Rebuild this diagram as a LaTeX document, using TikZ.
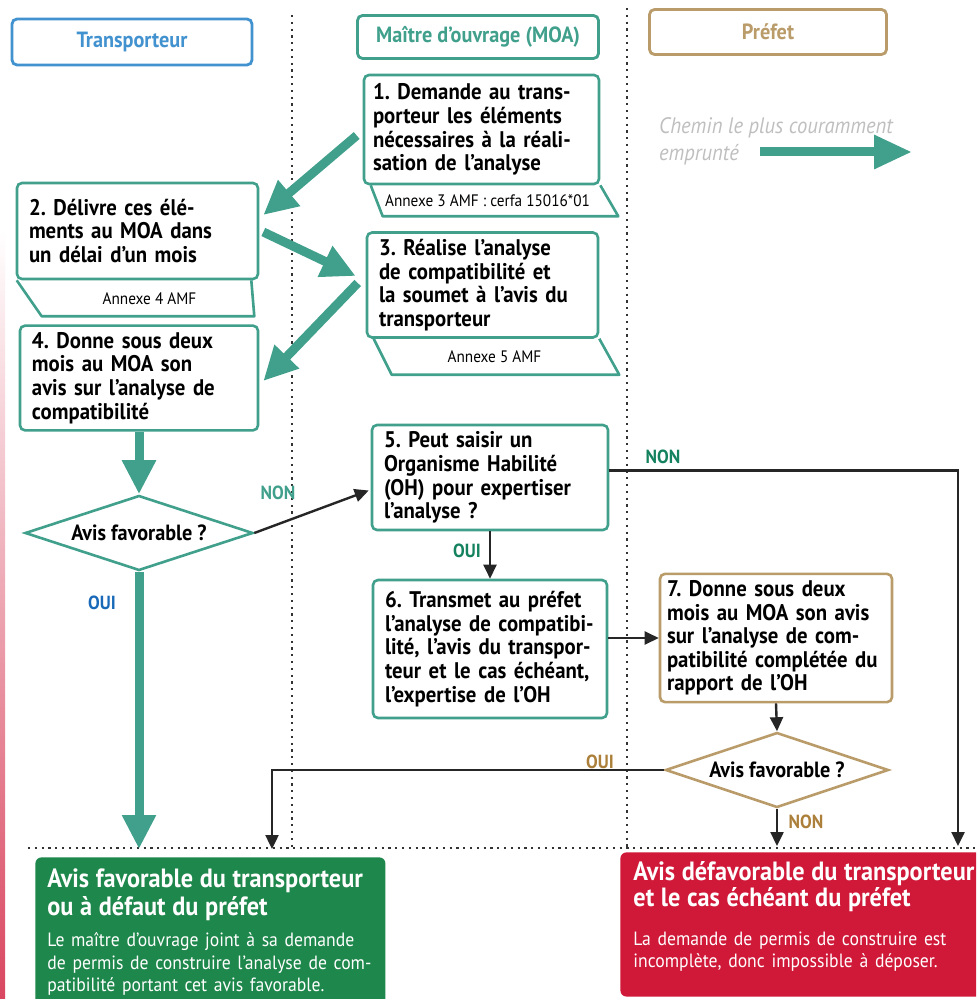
\documentclass[tikz,border=0pt]{standalone}
\usepackage{fontspec}
\setmainfont{PT Sans}[FakeStretch=0.92]
\definecolor{MoaTeal}   {RGB}{64,160,140}
\definecolor{TranspBlue}{RGB}{66,146,208}
\definecolor{OuiBlue}   {RGB}{25,105,185}
\definecolor{PrefetTan} {RGB}{186,156,106}
\definecolor{LabelTan}  {RGB}{172,128,58}
\definecolor{OkGreen}   {RGB}{30,135,75}
\definecolor{LabelGreen}{RGB}{20,130,95}
\definecolor{RefusRed}  {RGB}{208,24,56}
\usetikzlibrary{arrows.meta,positioning,calc,shapes.geometric}
\tikzset{
  headbox/.style={draw,line width=1.4pt,rounded corners=2.5pt,
                  font=\bfseries\fontsize{11}{13}\selectfont},
  stepbox/.style={draw=MoaTeal,line width=1.3pt,rounded corners=2.5pt,
                  fill=white,align=left,inner xsep=6pt,
                  font=\frenchspacing\bfseries\fontsize{11.3}{11.8}\selectfont},
  tabline/.style={draw=MoaTeal,line width=1.3pt,line join=round},
  annexe/.style={font=\fontsize{8.3}{10}\selectfont},
  decision/.style={diamond,draw,line width=1.3pt,fill=white,aspect=3,
                   inner sep=0pt,font=\bfseries\fontsize{11}{13}\selectfont},
  bigarrow/.style={MoaTeal,line width=4.5pt,
                   -{Triangle[length=17pt,width=16pt]}},
  flowarrow/.style={black!85,line width=1.2pt,
                    -{Triangle[length=7pt,width=6.5pt]}},
  lbl/.style={font=\bfseries\fontsize{9.5}{11}\selectfont},
  sepline/.style={black!80,line width=1pt,dash pattern=on 1.1pt off 2.3pt},
  endbox/.style={rounded corners=3pt,text=white,align=left,
                 anchor=north west,inner xsep=6pt},
}
\newcommand{\outtitle}{\bfseries\fontsize{13.2}{14}\selectfont}
\newcommand{\outbody}{\fontsize{9.6}{11.25}\selectfont}
\begin{document}
\frenchspacing
\begin{tikzpicture}[x=0.5pt,y=-0.5pt]
  \clip (0,0) rectangle (976,999);
  \fill[white] (0,0) rectangle (976,999);
  \shade[top color=white,bottom color=RefusRed!80] (0,230) rectangle (5,999);
  % column separators
  \draw[sepline] (292,15) -- (292,848);
  \draw[sepline] (627,8) -- (627,848);
  \draw[sepline] (28,848) -- (976,848);
  % column headers
  \node[headbox,draw=TranspBlue,text=TranspBlue,minimum width=120pt,
        minimum height=23pt] (h1) at (132,42) {Transporteur};
  \node[headbox,draw=MoaTeal,text=MoaTeal,minimum width=120.5pt,
        minimum height=21.5pt] (h2) at (478,37) {Maître d’ouvrage (MOA)};
  \node[headbox,draw=PrefetTan,text=PrefetTan,minimum width=118.5pt,
        minimum height=22.5pt] (h3) at (768,32) {Préfet};
  % legend
  \node[anchor=west,align=left,text=black!25,
        font=\itshape\fontsize{11.2}{13.5}\selectfont] (leg) at (652,141)
       {Chemin le plus couramment\\emprunté};
  \coordinate (legA) at (760,152);
  \coordinate (legB) at (912,152);
  \draw[MoaTeal,line width=4.5pt,-{Triangle[length=19pt,width=16pt]}]
       (legA) -- (legB);
  % steps
  \node[stepbox,inner xsep=4.5pt,text width=108.5pt,minimum height=54.5pt]
       (b1) at (481.5,129.5)
       {1. Demande au trans-\\porteur les éléments\\nécessaires à la réali-\\sation de l’analyse};
  \draw[tabline] ($(b1.south west)+(8,0)$) -- ++(12,31)
       -- ($(b1.south east)+(18,31)$) -- (b1.south east);
  \node[annexe] (t1) at ($(b1.south)+(6,15)$) {Annexe 3 AMF : cerfa 15016*01};
  \node[stepbox,text width=108.5pt,minimum height=48pt] (b2)
       at (137.5,231)
       {2. Délivre ces élé-\\ments au MOA dans\\un délai d’un mois};
  \draw[tabline] ($(b2.south west)+(1,0)$) -- ++(25,36)
       -- ($(b2.south east)+(-5,36)$) -- ($(b2.south east)+(-8,0)$);
  \node[annexe] (t2) at ($(b2.south)+(12,18)$) {Annexe 4 AMF};
  \node[stepbox,text width=103.5pt,minimum height=52pt] (b3)
       at (482.5,285)
       {3. Réalise l’analyse\\de compatibilité et\\la soumet à l’avis du\\transporteur};
  \draw[tabline] ($(b3.south west)+(8,0)$) -- ++(18,36)
       -- ($(b3.south east)+(20,36)$) -- (b3.south east);
  \node[annexe] (t3) at ($(b3.south)+(12,18)$) {Annexe 5 AMF};
  \node[stepbox,text width=107pt,minimum height=50pt] (b4)
       at (139,378)
       {4. Donne sous deux\\mois au MOA son\\avis sur l’analyse de\\compatibilité};
  \node[decision,draw=MoaTeal,minimum width=114pt,minimum height=37.5pt]
       (d1) at (139,533) {Avis favorable ?};
  \node[stepbox,text width=106pt,minimum height=52.5pt] (b5)
       at (490,477.5)
       {5. Peut saisir un\\Organisme Habilité\\(OH) pour expertiser\\l’analyse ?};
  \node[stepbox,text width=105pt,minimum height=69pt] (b6)
       at (490,649)
       {6. Transmet au préfet\\l’analyse de compatibi-\\lité, l’avis du transpor-\\teur et le cas échéant,\\l’expertise de l’OH};
  \node[stepbox,draw=PrefetTan,inner xsep=3.5pt,text width=109pt,
        minimum height=60pt] (b7) at (776,638)
       {7. Donne sous deux\\mois au MOA son avis\\sur l’analyse de com-\\patibilité complétée du\\rapport de l’OH};
  \node[decision,draw=PrefetTan,minimum width=111.5pt,minimum height=37.5pt]
       (d2) at (777,770) {Avis favorable ?};
  % outcomes
  \node[endbox,fill=OkGreen,text width=163pt,inner ysep=5.5pt] (ok)
       at (35,857)
       {{\outtitle Avis favorable du transporteur\\ou à défaut du préfet\par}
        \vspace{4.5pt}{\outbody Le maître d’ouvrage joint à sa demande\\de permis de construire l’analyse de com-\\patibilité portant cet avis favorable.\par}\kern20pt};
  \node[endbox,fill=RefusRed,text width=177pt,inner xsep=6.5pt,
        inner ysep=4.5pt,minimum height=71.5pt] (refus) at (620,852)
       {{\outtitle\fontsize{13.2}{12}\selectfont Avis défavorable du transporteur\\et le cas échéant du préfet\par}
        \vspace{8pt}{\outbody La demande de permis de construire est\\incomplète, donc impossible à déposer.\par}\kern8pt};
  % usual path
  \draw[bigarrow] ($(b1.west)+(-6,6)$) -- ($(b2.east)+(4,-16)$);
  \draw[bigarrow] ($(b2.east)+(4,1)$) -- ($(b3.west)+(-10,-9)$);
  \draw[bigarrow] ($(b3.west)+(-8,-2)$) -- ($(b4.east)+(4,3)$);
  \draw[bigarrow] (b4.south) -- (d1.north);
  \draw[bigarrow] (d1.south) -- ($(d1.south |- ok.north)+(0,-8)$);
  \node[lbl,text=OuiBlue] (oui1) at (102,603) {OUI};
  % other paths
  \draw[flowarrow] (d1.east) -- ($(b5.west)+(-2,13)$);
  \node[lbl,text=MoaTeal] (non1) at (278,493) {NON};
  \draw[flowarrow] (b5.south) -- (b6.north);
  \node[lbl,text=LabelGreen] (oui2) at (467,551) {OUI};
  \draw[flowarrow] ($(b5.east)+(0,-7)$) -| ($(refus.north west)+(338,-6)$);
  \node[lbl,text=LabelGreen] (non2) at (663,457) {NON};
  \draw[flowarrow] (b6.east |- b7.west) -- (b7.west);
  \draw[flowarrow] (b7.south) -- (d2.north);
  \draw[flowarrow] (d2.west) -| ($(ok.north west)+(237,-8)$);
  \node[lbl,text=LabelTan] (oui3) at (600,762) {OUI};
  \draw[flowarrow] (d2.south) -- ($(d2.south |- refus.north)+(0,-6)$);
  \node[lbl,text=LabelTan] (non3) at (806,822) {NON};
\end{tikzpicture}
\end{document}
